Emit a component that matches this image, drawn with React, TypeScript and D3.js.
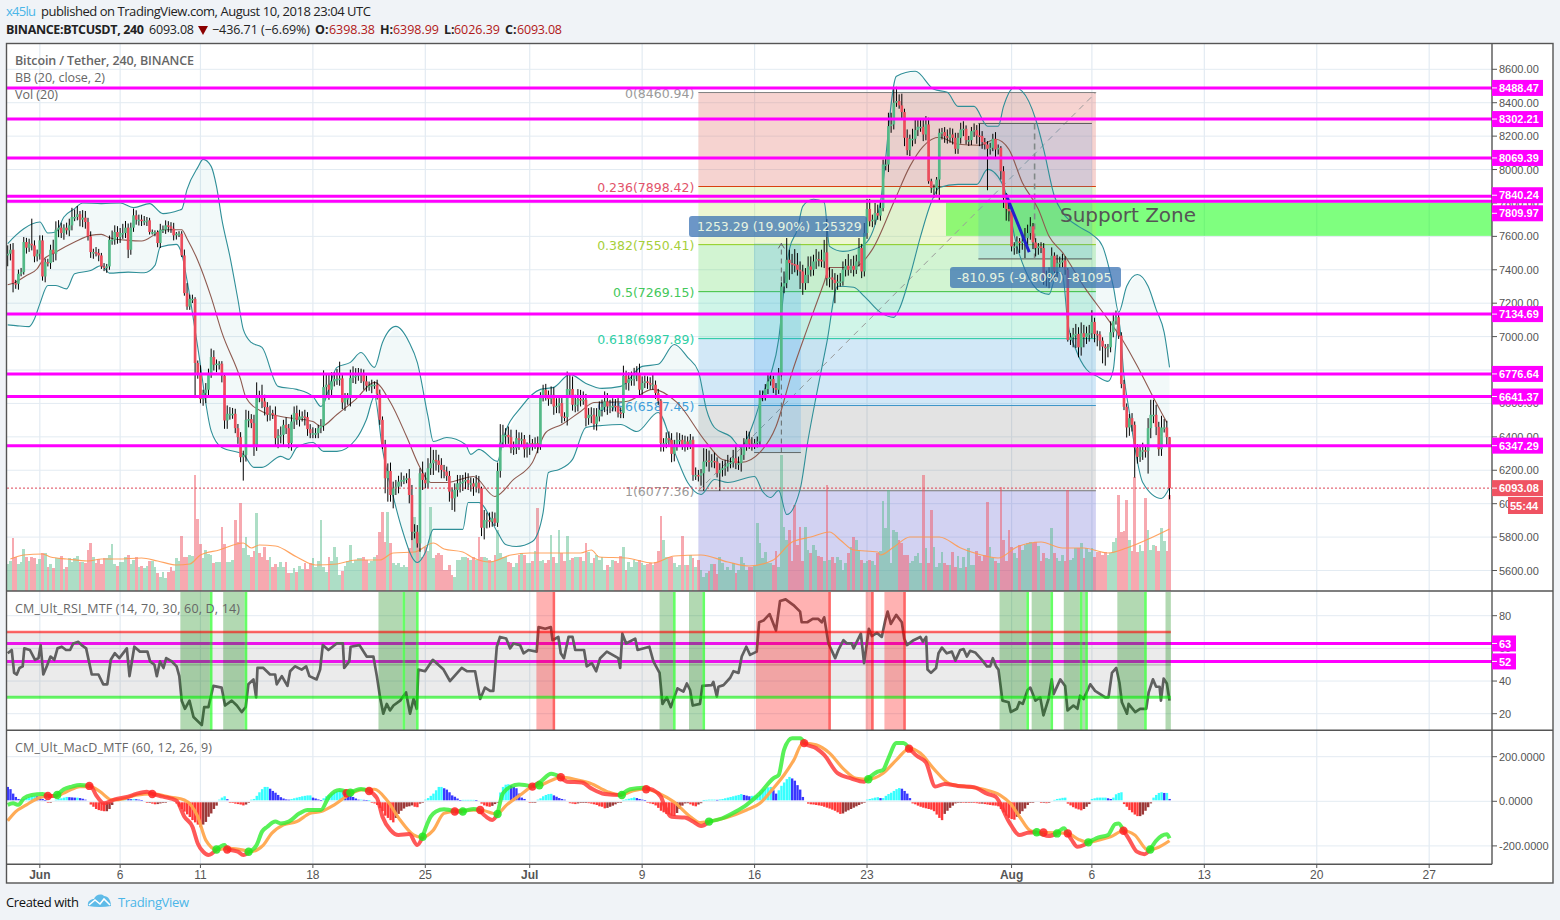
import React from 'react';
import * as d3 from 'd3';

const closes = [
7496,7520,7320,7316,7376,7386,7566,7532,7556,7546,
7480,7496,7576,7360,7446,7440,7520,7496,7640,7652,
7620,7652,7636,7666,7716,7716,7732,7700,7712,7686,
7600,7506,7506,7500,7486,7420,7412,7420,7580,7580,
7626,7596,7620,7620,7652,7520,7652,7726,7700,7700,
7692,7692,7696,7626,7626,7626,7560,7640,7640,7666,
7660,7646,7606,7616,7616,7486,7260,7180,7226,7226,
6842,6778,6626,6662,6682,6778,6878,6832,6838,6838,
6766,6498,6538,6538,6538,6452,6398,6278,6292,6502,
6506,6482,6346,6646,6642,6612,6578,6532,6542,6532,
6392,6406,6412,6472,6452,6362,6492,6542,6502,6522,
6522,6518,6446,6422,6422,6422,6452,6466,6698,6712,
6682,6732,6746,6746,6750,6606,6632,6632,6752,6762,
6766,6772,6778,6732,6706,6706,6712,6712,6658,6502,
6352,6152,6196,6052,6092,6102,6132,6142,6142,6152,
6052,5832,5832,5762,6182,6142,6122,6212,6242,6262,
6258,6232,6202,6192,6166,6072,6032,6082,6122,6126,
6132,6142,6122,6122,6102,6126,6092,5856,5902,5902,
5892,5912,5886,6196,6366,6412,6412,6398,6332,6332,
6392,6382,6386,6326,6332,6362,6358,6362,6342,6642,
6682,6652,6626,6652,6582,6586,6602,6522,6518,6686,
6686,6592,6592,6626,6622,6622,6512,6532,6532,6478,
6522,6562,6578,6612,6582,6582,6586,6582,6546,6542,
6766,6722,6746,6746,6778,6778,6682,6722,6732,6722,
6712,6712,6662,6616,6362,6362,6392,6382,6298,6352,
6382,6382,6352,6372,6352,6382,6172,6172,6168,6182,
6252,6258,6252,6256,6252,6182,6202,6212,6222,6242,
6246,6272,6242,6242,6292,6352,6386,6358,6352,6362,
6372,6638,6642,6686,6732,6746,6692,6682,6782,7300,
7320,7460,7440,7434,7430,7400,7390,7320,7370,7420,
7400,7450,7464,7460,7450,7504,7350,7354,7340,7320,
7330,7330,7400,7424,7400,7424,7400,7450,7530,7390,
7620,7764,7690,7700,7740,7724,7770,8030,8030,8260,
8270,8400,8410,8384,8344,8190,8116,8184,8184,8236,
8256,8256,8210,8270,7930,7890,7890,7940,8220,8224,
8200,8190,8210,8190,8124,8190,8240,8244,8176,8176,
8230,8236,8204,8200,8164,8150,8124,8130,8184,8120,
8130,7990,7830,7764,7750,7540,7540,7570,7560,7570,
7590,7620,7660,7564,7530,7540,7530,7350,7360,7370,
7484,7390,7440,7444,7456,7400,6980,6996,7012,7016,
6936,7020,6996,7020,7020,7088,7016,7012,6976,6940,
6936,6936,7026,7092,7116,7006,6716,6580,6456,6512,
6472,6336,6280,6312,6320,6316,6452,6532,6532,6460,
6326,6456,6456,6398,6093.08];

const wickUp = [
50,35,40,20,25,25,30,25,30,150, 30,25,30,30,20,20,30,60,50,45,
30,20,30,40,55,45,50,20,45,40, 25,30,20,30,25,15,20,15,25,55,
40,35,30,55,40,25,30,40,30,30, 30,30,20,15,15,10,10,35,25,30,
25,25,35,10,15,15,35,60,25,25, 10,15,50,20,40,30,50,40,25,15,
15,10,50,40,35,30,25,30,25,60, 50,30,50,80,30,70,40,30,45,20,
50,40,50,30,45,25,40,40,45,40, 30,40,30,30,35,30,20,40,100,70,
60,55,40,60,100,30,30,30,50,60, 45,40,30,25,35,25,30,20,30,25,
20,30,45,50,40,40,35,45,25,30, 55,60,45,40,30,70,45,60,100,60,
60,35,40,30,30,30,25,40,50,45, 40,45,40,35,30,45,40,10,60,45,
45,40,35,50,110,60,40,50,45,40, 50,35,40,25,35,50,25,35,40,25,
30,35,25,50,45,45,30,30,25,105, 85,75,60,60,55,50,35,40,45,40,
50,50,45,60,50,40,45,40,50,30, 60,30,40,45,35,45,60,40,35,30,
35,60,25,25,10,30,35,40,40,30, 45,40,30,35,30,35,20,45,30,25,
80,70,60,40,50,25,40,45,40,50, 30,50,75,40,40,40,50,45,40,25,
30,40,35,30,40,25,20,30,30,25, 70,130,60,55,90,70,50,40,40,60,
60,40,60,45,60,75,200,60,50,40, 40,50,50,40,70,40,60,40,60,25,
60,60,60,30,60,50,40,30,45,80, 70,90,85,40,70,20,50,25,60,70,
40,50,45,50,40,15,20,15,25,25, 30,40,40,35,30,30,40,45,20,25,
25,40,30,70,30,25,20,30,30,40, 20,10,30,30,40,20,25,30,20,30,
60,50,55,20,25,20,25,30,35,45, 50,20,50,35,40,25,10,25,40,60,
40,65,50,40,50,70,25,20,20,20, 15,20,65,50,40,20,20,25,20,25,
30,20,20,40,45,30,60,90,90,60, 30,70,50,40,1];

const wickDown = [
65,40,55,30,35,15,15,35,25,30, 35,30,35,25,35,20,35,50,40,45,
30,40,25,35,30,25,20,40,45,40, 25,35,40,20,35,15,20,30,20,30,
30,40,35,35,30,50,30,25,30,35, 30,25,30,15,15,25,25,30,20,25,
35,25,30,25,20,10,15,20,20,25, 210,30,25,40,60,40,25,35,45,35,
40,50,50,35,30,30,40,30,140,40, 45,30,60,30,35,40,50,40,35,25,
45,60,45,60,35,30,45,45,30,40, 30,50,40,30,30,30,30,30,30,60,
60,40,30,35,40,40,50,40,50,30, 45,30,50,50,35,30,45,25,35,30,
25,90,140,40,80,40,40,30,25,20, 50,50,40,25,50,60,30,30,40,70,
60,45,50,40,30,60,70,80,40,55, 50,45,40,50,55,35,30,50,70,50,
35,30,20,25,40,30,60,40,30,40, 35,60,40,50,50,40,40,30,40,20,
30,35,40,30,50,40,45,40,25,50, 35,35,45,40,40,30,50,40,50,35,
40,30,40,30,50,40,30,30,30,30, 30,40,45,40,40,45,40,30,30,35,
30,30,35,25,50,50,30,40,50,45, 35,40,30,40,30,25,35,30,35,60,
104,30,60,35,40,25,105,40,45,30, 30,30,35,40,50,30,35,30,35,25,
25,30,25,25,30,25,30,40,25,20, 40,30,100,60,45,35,105,70,40,50,
40,35,45,40,35,40,45,55,60,120, 40,30,25,40,35,20,40,25,30,40,
30,35,30,35,30,25,30,20,35,45, 40,30,25,20,40,50,30,35,45,30,
35,30,40,35,15,30,60,40,130,40, 40,35,30,40,30,30,35,40,25,35,
30,35,50,60,40,30,248,35,20,50, 30,50,60,70,60,30,50,45,60,40,
100,50,40,40,50,40,30,40,50,70, 40,50,35,30,30,30,10,30,60,80,
60,50,60,40,50,30,50,70,60,100, 110,60,30,30,20,20,25,20,60,50,
40,180,40,30,50,40,136,60,50,50, 40,40,30,50,67];

const volumes = [
27,30,53,34,27,29,42,34,30,34, 33,27,32,38,38,24,27,23,33,33,
35,22,24,33,29,33,35,29,29,28, 41,48,34,28,32,27,33,33,36,47,
27,25,29,29,34,36,27,31,34,24, 25,23,25,30,30,24,18,14,19,13,
19,24,20,33,30,55,34,34,36,35, 116,72,47,33,41,37,36,28,29,29,
64,47,29,29,31,71,49,88,43,54, 36,34,40,78,38,34,44,31,34,24,
27,24,29,24,29,18,18,23,19,25, 22,28,22,28,33,24,30,71,24,19,
34,30,44,34,16,20,25,30,46,28, 31,33,33,34,31,28,30,34,36,59,
79,49,79,48,28,26,28,24,26,24, 43,61,74,58,43,34,44,40,84,33,
36,38,36,21,21,26,16,14,31,31, 34,34,33,31,34,31,54,34,34,33,
31,30,36,61,38,34,34,29,28,24, 28,36,38,36,28,28,30,40,83,30,
31,28,31,56,34,28,61,38,30,55, 31,33,34,34,34,30,48,39,28,33,
36,31,34,21,26,24,31,30,28,35, 44,21,29,24,31,29,31,28,26,27,
28,26,29,40,75,51,34,34,34,28, 24,26,55,26,26,36,33,24,31,21,
14,18,20,27,27,17,34,28,21,24, 21,28,18,21,34,28,21,24,24,25,
68,48,33,39,28,28,26,40,24,136, 64,51,61,30,86,46,64,30,64,41,
38,46,41,35,34,30,106,31,34,28, 34,31,21,28,38,44,54,51,41,31,
28,30,31,30,26,38,40,90,63,101, 28,61,59,51,48,36,36,28,30,35,
38,28,116,43,28,81,44,24,28,39, 28,26,26,39,24,35,23,34,24,43,
26,26,40,35,30,36,89,44,33,30, 28,104,51,30,61,44,38,33,46,41,
46,48,49,48,49,45,30,38,33,32, 63,38,33,30,36,30,101,31,33,43,
43,48,33,43,39,43,34,39,39,36, 39,36,38,49,53,96,59,60,91,51,
40,114,39,46,40,93,61,41,46,45, 40,63,50,40,96];

const volumeAverage = [[1,32],[6,36],[13,37],[16,34],[22,32],[30,30],[35,32],[41,32],[50,33],[56,30],[63,26],[68,27],[72,36],[79,41],[88,48],[91,43],[94,46],[100,45],[108,34],[115,26],[123,27],[130,31],[139,31],[144,38],[152,39],[159,48],[163,42],[170,39],[174,33],[180,29],[188,36],[195,38],[201,38],[214,38],[218,41],[221,34],[231,33],[241,28],[249,35],[259,36],[269,29],[277,25],[286,31],[293,49],[300,54],[307,59],[311,51],[316,41],[325,39],[326,36],[331,44],[337,54],[348,54],[356,43],[360,39],[370,33],[377,44],[386,49],[394,43],[402,43],[411,38],[418,43],[427,53],[434,62]];

const bbUpper = [[0,7556],[3,7606],[6,7646],[12,7686],[15,7620],[18,7626],[21,7716],[25,7766],[28,7800],[35,7796],[42,7800],[47,7772],[53,7796],[58,7736],[64,7756],[65,7762],[67,7881],[71,8013],[73,8061],[76,8019],[78,7899],[80,7702],[83,7480],[86,7222],[88,7043],[91,6965],[95,6935],[101,6702],[108,6684],[114,6642],[117,6582],[123,6816],[128,6846],[132,6905],[137,6816],[140,6965],[145,7061],[150,6965],[153,6846],[157,6522],[159,6372],[164,6396],[171,6354],[173,6295],[176,6325],[183,6253],[185,6384],[192,6582],[199,6684],[204,6696],[210,6774],[216,6720],[222,6690],[229,6702],[237,6822],[243,6834],[249,6953],[254,6876],[258,6792],[261,6564],[264,6456],[270,6402],[274,6336],[276,6384],[279,6504],[282,6654],[285,6774],[288,6983],[290,7283],[292,7522],[295,7642],[297,7780],[301,7822],[305,7804],[307,7540],[312,7510],[320,7552],[326,7804],[332,8558],[339,8588],[346,8480],[351,8462],[355,8378],[361,8378],[366,8259],[370,8259],[372,8378],[376,8492],[379,8468],[384,8301],[387,8121],[391,7840],[394,7744],[400,7660],[405,7612],[409,7540],[413,7301],[415,7145],[418,7301],[422,7372],[426,7301],[429,7163],[432,7025],[434,6816]];

const bbLower = [[0,7070],[3,7066],[8,7060],[10,7106],[12,7196],[15,7306],[18,7306],[22,7286],[25,7376],[31,7396],[35,7426],[38,7380],[45,7386],[51,7382],[55,7426],[57,7536],[63,7552],[65,7496],[67,7336],[71,6936],[76,6436],[80,6336],[88,6295],[92,6217],[95,6217],[102,6283],[105,6265],[108,6336],[114,6366],[118,6313],[123,6313],[130,6384],[134,6504],[137,6642],[140,6325],[144,6043],[147,5863],[153,5648],[156,5708],[159,5846],[170,5846],[172,6007],[176,6007],[183,5828],[186,5756],[190,5744],[196,5774],[200,5947],[202,6187],[206,6205],[211,6265],[216,6456],[222,6468],[229,6474],[235,6432],[243,6546],[249,6313],[254,6127],[259,6055],[264,6145],[269,6127],[279,6163],[282,6073],[285,6037],[288,6079],[291,5935],[296,6085],[299,6384],[302,6642],[306,6965],[310,7301],[316,7295],[320,7241],[326,7145],[331,7115],[333,7163],[337,7360],[341,7600],[345,7804],[348,7893],[355,7911],[362,7911],[366,8001],[372,7899],[377,7540],[380,7402],[386,7265],[389,7253],[392,7384],[394,7372],[396,7085],[399,6923],[403,6803],[407,6762],[411,6732],[413,6803],[415,7103],[417,6762],[419,6546],[421,6342],[424,6127],[431,6031],[434,6097]];

const bbBasis = [[0,7310],[3,7326],[7,7366],[11,7406],[13,7456],[18,7506],[25,7566],[31,7606],[35,7612],[38,7592],[45,7576],[50,7572],[55,7612],[58,7640],[65,7640],[67,7586],[71,7456],[76,7236],[80,7025],[87,6744],[89,6636],[95,6552],[102,6522],[114,6492],[117,6462],[123,6534],[130,6624],[137,6726],[143,6606],[149,6402],[154,6217],[158,6127],[164,6127],[174,6163],[182,6043],[189,6145],[196,6247],[201,6426],[207,6474],[214,6552],[219,6606],[231,6612],[241,6684],[250,6606],[261,6366],[267,6265],[274,6247],[281,6307],[287,6462],[293,6786],[299,7061],[305,7325],[307,7414],[316,7414],[323,7522],[331,7804],[337,8019],[342,8139],[348,8193],[355,8151],[363,8145],[369,8181],[374,8121],[379,7923],[385,7762],[389,7600],[394,7504],[402,7301],[411,7103],[417,6965],[422,6822],[427,6666],[433,6486]];

const rsiSeries = [[0,57],[1.5,59],[2.4,45],[3.4,44],[4.4,48],[5.6,49],[6.2,60],[8.3,59],[10.2,53],[11.5,54],[12.3,62],[13.3,44],[14.6,49],[16,55],[17.4,53],[18.6,60],[20.2,61],[21.8,59],[23.3,59],[24.5,63],[26.4,64],[27.6,62],[29.3,60],[31.4,44],[33.9,44],[35.7,38],[37.2,38],[38.5,53],[40,57],[41.7,54],[44.5,60],[45.5,43],[47.3,61],[49.4,58],[52.2,58],[53.2,52],[54.8,50],[55.7,43],[56.9,52],[58.2,48],[59.2,54],[61.3,52],[63.1,49],[64.1,43],[65,28],[66.2,23],[67.9,28],[69.4,18],[72.5,13],[73.4,24],[75,24],[76.8,37],[79.9,36],[81.2,25],[83.7,28],[85.6,25],[87.4,21],[88.9,24],[89.9,38],[91.8,41],[92.8,30],[93.3,48],[95.5,48],[98,44],[99.9,44],[100.5,38],[102.4,43],[104.5,37],[105.5,46],[107.3,49],[109.8,47],[111.5,49],[112.7,43],[115.4,41],[116.7,47],[117.7,62],[119.8,59],[122.9,63],[125.2,63],[125.7,48],[127.6,52],[128.1,61],[131.4,62],[134.1,55],[136.6,55],[137.9,43],[139.1,30],[140.3,20],[141.6,26],[142.8,22],[144.1,25],[146.6,28],[148.8,33],[150.3,20],[151.6,29],[152.8,23],[153.4,47],[155.9,46],[158.8,53],[162.8,47],[165.2,40],[169.6,48],[171.5,46],[174.6,46],[176.5,29],[178.3,36],[180.2,34],[181.4,34],[182.7,61],[183.9,67],[186.2,66],[187.7,60],[188.9,63],[191.4,62],[192.7,57],[194.5,59],[197.6,58],[198.3,73],[200.8,72],[202.9,73],[203.5,65],[205.7,67],[206.6,57],[207.8,54],[209.5,67],[211,67],[212,59],[215.3,59],[216.3,49],[218.2,51],[219.8,46],[221.3,54],[223.8,58],[228.1,54],[228.8,48],[229.6,69],[231,63],[234.4,66],[235.3,59],[239.7,61],[241.2,52],[243.5,45],[244.6,26],[246.2,30],[247.7,24],[250.2,35.5],[252.4,33.5],[253.7,38.5],[254.9,34.5],[255.9,25],[258.6,26],[259.5,37],[263,37.5],[263.6,39.5],[264.9,30.5],[265.5,36.5],[267.4,37.5],[269.9,42],[271.1,46],[273,45],[274.2,55],[275.9,61],[277.3,56],[279.8,58],[280.7,76],[282.3,77],[284.6,81],[287,71],[288.5,89],[290.6,90],[293.5,86.5],[296,82.5],[296.6,76],[298.7,76],[300.7,78],[302.8,78],[304.1,76],[305,79],[306.6,63],[309.1,54],[310.3,59],[312.2,65],[313.5,63],[315.3,63],[316,60],[318.7,69],[319.9,51],[321.7,72],[322.8,67.5],[324.7,69.5],[326.5,67],[327.8,77],[328.7,82.5],[329.9,75],[331.9,80.5],[334,76],[334.9,66],[335.9,62],[338.4,65],[340.9,67],[341.9,64],[343.1,67],[343.6,47],[344.9,45],[346.8,48],[347.7,57],[349,60.5],[350.8,57],[352.7,58],[354,52.5],[355.8,59],[357.1,59.5],[358.3,55],[359.5,58.5],[361.4,57.5],[363.9,53],[365.8,49],[367,49],[368,54],[369.2,49],[370.1,47],[371.6,28],[373.9,27],[374.7,21],[377,23],[377.9,27],[379.2,26],[381,34.5],[382,36],[383.9,28],[385.7,30],[386.9,19],[388.8,29],[390,41],[390.7,32],[393.2,41],[395,37],[395.9,22],[398.1,25],[399.6,23],[400.6,31],[401.9,29],[404.4,38],[406.2,34],[410,30],[411.2,30],[412.5,45],[414.1,48],[415.3,39],[416.2,27],[418.1,20],[418.7,26],[421.2,21],[423,23],[425.3,23],[426.2,33],[427.8,41],[429,36.5],[430.3,36.5],[430.8,28],[431.8,41.5],[433,38.5],[434,28]];

const rsiZones = [[65,76,'g',1],[81,89,'g',1],[139,148,'g',1],[149,153,'g',1],[198,204,'r',1],[244,249,'g',1],[255,260,'g',1],[280,307,'r',1],[321,323,'r',1],[328,335,'r',1],[371,381,'g',1],[383,390,'g',1],[395,401,'g',1],[402,403,'g',1],[415,425,'g',1],[433,435,'g',0]];

const macdFast = [[0,-16],[2,-9],[4,-16],[6,13],[9,28],[13,33],[15,24],[18,24],[21,54],[24,66],[27,73],[31,69],[33,28],[36,-9],[40,9],[45,21],[48,33],[52,43],[54,33],[58,21],[63,3],[66,-69],[69,-114],[71,-189],[73,-226],[75,-241],[78,-216],[81,-196],[82,-216],[86,-226],[88,-241],[91,-222],[93,-196],[95,-136],[97,-114],[100,-91],[102,-99],[105,-91],[109,-54],[112,-39],[117,-39],[120,21],[124,51],[128,39],[132,55],[135,46],[138,13],[140,-69],[143,-129],[146,-151],[150,-147],[153,-196],[155,-159],[158,-69],[160,-46],[163,-36],[167,-46],[170,-46],[174,-34],[176,-39],[179,-72],[181,-84],[183,-57],[185,36],[188,66],[191,75],[196,66],[199,88],[203,123],[206.6,108],[209,88],[214.5,84],[218,58],[223,33],[229,28],[232.5,54],[237.5,61],[241,51],[244,21],[245,-9],[248,-69],[253,-73],[256,-91],[259,-111],[262,-91],[267,-76],[272,-46],[276,-16],[281,36],[286,103],[288,118],[290,231],[293,283],[296,283],[298,258],[302,238],[305,208],[310,126],[315,103],[320,88],[321.5,103],[325,133],[327,141],[329,193],[332,261],[334.6,261],[337,234],[339.6,204],[343,174],[346.5,66],[350,78],[355,69],[361,63],[366,33],[369,21],[374,-91],[378,-151],[381,-141],[384,-139],[388.8,-156],[392,-144],[394.6,-121],[395.9,-144],[397.5,-174],[399.6,-204],[402,-196],[403.7,-184],[407.5,-162],[411,-151],[413.7,-102],[415,-99],[416.8,-132],[418.7,-166],[421.8,-226],[424.6,-237],[426.8,-216],[429,-177],[433,-148],[434,-166]];

const macdSlow = [[0,-87],[3,-46],[7,-16],[10,6],[15,24],[18,24],[22,43],[27,66],[31,66],[34.5,43],[39,6],[44,13],[48,28],[54,33],[61,18],[66,6],[71,-69],[74,-174],[78,-216],[83,-211],[88,-219],[90.5,-226],[95.5,-196],[98.6,-144],[103,-106],[108,-91],[113,-54],[117,-46],[122,-16],[128,33],[132,51],[137,54],[141.6,6],[146.6,-84],[151.6,-151],[154.7,-162],[159,-129],[163,-54],[169,-42],[176.5,-39],[182.7,-57],[186.4,-16],[191.4,28],[196,66],[199,73],[203,93],[206.6,108],[212.6,96],[217.6,81],[224,43],[229,28],[233.7,48],[238.5,54],[243.7,33],[248.7,-1],[255,-69],[258.7,-96],[261.8,-91],[268.6,-72],[276,-39],[281,-9],[286,58],[290,118],[293.7,186],[297,261],[302,253],[307,216],[312,148],[317,103],[321.5,99],[327,126],[332,186],[337,238],[340.9,216],[345.8,148],[352,78],[358,66],[364.5,54],[370.7,28],[374.5,-9],[378,-69],[382,-132],[384.4,-139],[392,-141],[395.9,-144],[400,-171],[403.7,-184],[407.5,-174],[412,-159],[416.8,-132],[421,-151],[426,-219],[429,-211],[434,-177]];

const macdCrosses = [[15,24,'r'],[18.5,28,'g'],[30.5,69,'r'],[54,33,'r'],[78,-216,'g'],[82,-216,'r'],[90,-226,'g'],[126.6,36,'r'],[128,39,'g'],[135,46,'r'],[155,-159,'g'],[167,-46,'r'],[170,-46,'g'],[176.5,-39,'r'],[183,-57,'g'],[196,66,'r'],[198.6,72,'g'],[206.6,108,'r'],[229.4,28,'g'],[238.5,54,'r'],[262,-91,'g'],[297.5,261,'r'],[321.5,99,'g'],[336.7,236,'r'],[384.4,-139,'g'],[386.9,-140,'r'],[392,-144,'g'],[396,-144,'r'],[403.7,-184,'g'],[416.8,-132,'r'],[426.8,-216,'g']];

const macdHist = [
60,50,30,15,6,3,6,10,14,18, 20,18,15,6,1,-2,-1,0,3,6,
9,12,15,14,13,12,12,10,7,3, 0,-10,-20,-30,-35,-38,-40,-40,-30,-12,
0,2,4,6,8,6,5,6,5,3, 1,0,-3,-3,-6,-9,-8,-5,-3,-1,
0,0,0,-5,-20,-30,-42,-54,-66,-80, -90,-100,-112,-100,-88,-65,-50,-30,-15,3,
12,18,5,-2,-3,-6,-8,-10,-14,-10, -1,3,6,20,36,50,60,60,52,42,
34,24,14,8,4,3,6,9,12,15, 18,20,22,22,12,8,4,1,9,18,
24,30,36,40,44,46,38,34,30,15, 8,3,3,2,1,1,-1,-5,-12,-25,
-40,-60,-70,-80,-90,-70,-52,-38,-28,-20, -18,-14,-20,-22,-6,-1,3,10,20,30,
45,60,60,54,48,36,22,16,8,1, 2,2,2,2,2,1,0,-6,-14,-18,
-20,-16,-8,-1,35,60,70,72,66,60, 54,30,12,6,0,-2,-2,-1,3,9,
18,24,28,29,22,16,10,6,3,0, -4,-6,-8,-5,-3,-3,-3,-4,-6,-9,
-12,-18,-20,-27,-25,-20,-15,-9,-3,-1, 2,4,7,10,13,10,6,3,1,-2,
-5,-8,-14,-25,-38,-45,-52,-55,-60,-62, -48,-30,-15,-5,-4,-9,-15,-18,-10,-4,
1,2,3,3,3,2,4,6,9,12, 15,18,21,24,28,24,21,18,20,21,
24,36,48,52,58,60,45,30,45,65, 80,95,105,98,88,68,48,15,0,-6,
-9,-10,-12,-14,-16,-20,-24,-28,-33,-38, -45,-52,-50,-42,-36,-30,-24,-18,-12,-6,
-2,3,6,9,12,14,10,10,20,28, 34,42,50,55,52,42,30,10,-5,-9,
-15,-20,-24,-27,-30,-33,-40,-55,-70,-80, -52,-38,-25,-15,-5,-2,-1,-2,-1,-3,
-2,-3,-4,-6,-6,-8,-10,-12,-14,-15, -18,-30,-45,-60,-70,-75,-78,-65,-52,-40,
-28,-12,-3,-1,0,0,-3,-2,-4,-2, 0,2,6,8,11,12,-6,-14,-22,-28,
-32,-36,-30,-20,-8,6,9,12,12,12, 12,9,6,12,27,33,36,-8,-20,-35,
-45,-55,-62,-62,-55,-38,-22,-5,12,24, 33,36,33,33,6];

const priceTicks = [8600,8400,8200,8000,7800,7600,7400,7200,7000,6800,6600,6400,6200,6000,5800,5600];
const rsiTicks = [80,60,40,20];
const macdTicks = [200,0,-200];
const timeTicks = [[12,'Jun',true],[42,'6',false],[72,'11',false],[114,'18',false],[156,'25',false],[195,'Jul',true],[237,'9',false],[279,'16',false],[321,'23',false],[375,'Aug',true],[405,'6',false],[447,'13',false],[489,'20',false],[531,'27',false]];
const levels = [8488.47,8302.21,8069.39,7840.24,7809.97,7134.69,6776.64,6641.37,6347.29];
const rsiLevels = [63,52];

const fibLevels = [
  {ratio:'0',price:8460.94,fill:'rgba(225,110,100,0.3)',line:'#808080',text:'#9a9a9a'},
  {ratio:'0.236',price:7898.42,fill:'rgba(190,225,90,0.27)',line:'#d9400f',text:'#e2536a'},
  {ratio:'0.382',price:7550.41,fill:'rgba(90,215,90,0.27)',line:'#8fce1a',text:'#a7cf3a'},
  {ratio:'0.5',price:7269.15,fill:'rgba(60,215,160,0.24)',line:'#3cc13c',text:'#44c85a'},
  {ratio:'0.618',price:6987.89,fill:'rgba(50,150,220,0.22)',line:'#20c8a0',text:'#2fcfa5'},
  {ratio:'0.786',price:6587.45,fill:'rgba(128,128,128,0.22)',line:'#3d95c8',text:'#43a0e0'},
  {ratio:'1',price:6077.36,fill:'rgba(80,80,205,0.26)',line:'#777777',text:'#9a9a9a'},
];

const LEFT = 7, AXIS = 1492, RIGHT = 1553;
const x = d3.scaleLinear().domain([0,434]).range([7.7,7.7+434*2.677]);
const y = d3.scaleLinear().domain([8600,5600]).range([69.3,570.5]);
const yVol = d3.scaleLinear().domain([0,150]).range([591,441]);
const yRsi = d3.scaleLinear().domain([80,20]).range([615.7,713.7]);
const yMacd = d3.scaleLinear().domain([200,-200]).range([756.7,845.9]);

const priceLine = d3.line().x((p:any)=>x(p[0])).y((p:any)=>y(p[1]));
const smoothPrice = d3.line().x((p:any)=>x(p[0])).y((p:any)=>y(p[1])).curve(d3.curveMonotoneX);
const rsiLine = d3.line().x((p:any)=>x(p[0])).y((p:any)=>yRsi(p[1]));
const macdLine = d3.line().x((p:any)=>x(p[0])).y((p:any)=>yMacd(p[1])).curve(d3.curveMonotoneX);
const volLine = d3.line().x((p:any)=>x(p[0])).y((p:any)=>yVol(p[1])).curve(d3.curveMonotoneX);

const ARIAL = '"Liberation Sans", Arial, sans-serif';
const UI = '"Open Sans", sans-serif';
const DV = '"DejaVu Sans", sans-serif';
const GRID = '#e3ebf2';
const BW = 1.34;

function fastSegments() {
  const out:any[] = [];
  let start = 0; let col = 'g';
  macdCrosses.forEach((c:any)=>{
    out.push({from:start,to:c[0],col});
    start = c[0]; col = c[2];
  });
  out.push({from:start,to:434,col});
  return out.map(s=>{
    const pts = macdFast.filter((p:any)=>p[0]>s.from && p[0]<s.to);
    const at = (t:number)=>{
      const i = macdFast.findIndex((p:any)=>p[0]>=t);
      if(i<=0) return macdFast[0][1];
      const a:any=macdFast[i-1], b:any=macdFast[i];
      return a[1]+(b[1]-a[1])*(t-a[0])/(b[0]-a[0]);
    };
    return {points:[[s.from,at(s.from)],...pts,[s.to,at(s.to)]],col:s.col};
  });
}

function Label({px,py,w,text,fill='#ff00ff',height=16}:any){
  return <g>
    <rect x={px} y={py-height/2} width={w} height={height} fill={fill}/>
    <line x1={px} x2={px+5} y1={py} y2={py} stroke="#fff" strokeWidth={1}/>
    <text x={px+7} y={py+4.2} fontFamily={ARIAL} fontSize={11} fontWeight={700} fill="#fff">{text}</text>
  </g>;
}

export default function App(){
  const segs = fastSegments();
  const fibLeft = x(258), fibRight = x(406.5);
  const bandPoly = [...bbUpper,...[...bbLower].reverse()];
  return (
    <svg width={1560} height={920} viewBox="0 0 1560 920" style={{position:'absolute',left:0,top:0,display:'block'}}>
      <rect width={1560} height={920} fill="#f0f3f7"/>
      <rect x={LEFT} y={43} width={RIGHT-LEFT} height={840} fill="#fff"/>

      {priceTicks.map(t=><line key={'gp'+t} x1={LEFT} x2={AXIS} y1={y(t)} y2={y(t)} stroke={GRID} strokeWidth={1}/>)}
      {rsiTicks.map(t=><line key={'gr'+t} x1={LEFT} x2={AXIS} y1={yRsi(t)} y2={yRsi(t)} stroke={GRID} strokeWidth={1}/>)}
      {macdTicks.map(t=><line key={'gm'+t} x1={LEFT} x2={AXIS} y1={yMacd(t)} y2={yMacd(t)} stroke={GRID} strokeWidth={1}/>)}
      {timeTicks.map((t:any)=><line key={'gt'+t[0]} x1={x(t[0])} x2={x(t[0])} y1={44} y2={864} stroke={GRID} strokeWidth={1.2}/>)}

      <rect x={x(350.5)} y={y(7803)} width={AXIS-x(350.5)} height={y(7603)-y(7803)} fill="rgba(0,255,0,0.5)"/>

      {fibLevels.map((f,i)=>{
        const next = i<fibLevels.length-1 ? y(fibLevels[i+1].price) : 591;
        return <rect key={'fib'+i} x={fibLeft} y={y(f.price)} width={fibRight-fibLeft} height={next-y(f.price)} fill={f.fill}/>;
      })}
      {fibLevels.map((f,i)=><line key={'fl'+i} x1={fibLeft} x2={fibRight} y1={y(f.price)} y2={y(f.price)} stroke={f.line} strokeWidth={1}/>)}
      {fibLevels.map((f,i)=><text key={'ft'+i} x={fibLeft-4} y={y(f.price)+5} textAnchor="end" fontFamily={DV} fontSize={12.5} fill={f.text}>{`${f.ratio}(${f.price.toFixed(2)})`}</text>)}
      <path d={priceLine([[258,6077.36],[406.5,8460.94]] as any)!} fill="none" stroke="#9a9a9a" strokeWidth={1} strokeDasharray="6 5"/>

      <rect x={x(278.8)} y={y(7558)} width={x(296.3)-x(278.8)} height={y(6306)-y(7558)} fill="rgba(33,150,243,0.18)"/>
      <line x1={x(278.8)} x2={x(296.3)} y1={y(6306)} y2={y(6306)} stroke="#666" strokeWidth={1}/>
      <line x1={x(289)} x2={x(289)} y1={y(6306)} y2={y(7558)} stroke="#666" strokeWidth={1} strokeDasharray="5 4"/>
      <path d={d3.line()([[x(289)-3,y(7558)+5],[x(289),y(7558)],[x(289)+3,y(7558)+5]] as any)!} fill="none" stroke="#666"/>
      <rect x={x(362.6)} y={y(8276)} width={x(405)-x(362.6)} height={y(7465)-y(8276)} fill="rgba(33,150,243,0.15)"/>
      <line x1={x(362.6)} x2={x(405)} y1={y(8276)} y2={y(8276)} stroke="#555" strokeWidth={1}/>
      <line x1={x(362.6)} x2={x(405)} y1={y(7465)} y2={y(7465)} stroke="#555" strokeWidth={1}/>
      <line x1={x(383.6)} x2={x(383.6)} y1={y(8276)} y2={y(7465)} stroke="#888" strokeWidth={1.6} strokeDasharray="6 4"/>

      {volumes.map((v,i)=>{
        const up = closes[i] >= (i? closes[i-1]:7486);
        const x0 = Math.round(x(i)-BW), x1 = Math.round(x(i+1)-BW);
        return <rect key={'v'+i} x={x0} width={x1-x0} y={yVol(v)} height={591-yVol(v)} shapeRendering="crispEdges" fill={up?'rgba(83,185,135,0.48)':'rgba(239,83,98,0.5)'}/>;
      })}
      <path d={volLine(volumeAverage as any)!} fill="none" stroke="#ff9a50" strokeWidth={1.2} strokeOpacity={0.9}/>

      <path d={priceLine(bandPoly as any)!+'Z'} fill="rgba(0,128,128,0.05)"/>
      <path d={smoothPrice(bbUpper as any)!} fill="none" stroke="#2f8f98" strokeWidth={1.1}/>
      <path d={smoothPrice(bbLower as any)!} fill="none" stroke="#2f8f98" strokeWidth={1.1}/>
      <path d={smoothPrice(bbBasis as any)!} fill="none" stroke="#8e5a50" strokeWidth={1.1}/>

      {closes.map((c,i)=>{
        const o = i? closes[i-1]:7486;
        const hi = Math.max(o,c)+wickUp[i];
        const lo = Math.min(o,c)-wickDown[i];
        return <line key={'w'+i} x1={x(i)} x2={x(i)} y1={y(hi)} y2={y(lo)} stroke="#000" strokeWidth={1}/>;
      })}
      {closes.map((c,i)=>{
        const o = i? closes[i-1]:7486;
        const top = y(Math.max(o,c));
        const h = Math.max(1.5,y(Math.min(o,c))-top);
        return <rect key={'b'+i} x={x(i)-1.35} width={2.7} y={top} height={h} fill={c>=o?'#53b987':'#eb4d5c'}/>;
      })}

      <path d={priceLine([[372.9,7851],[381.6,7506]] as any)!} fill="none" stroke="#2222cc" strokeWidth={3}/>
      <line x1={LEFT} x2={AXIS} y1={y(6093.08)} y2={y(6093.08)} stroke="#dd4455" strokeWidth={1} strokeDasharray="2 2"/>
      {levels.map(l=><line key={'m'+l} x1={LEFT} x2={AXIS} y1={y(l)} y2={y(l)} stroke="#ff00ff" strokeWidth={3}/>)}

      <text x={1060} y={222} fontFamily={DV} fontSize={20} fill="#555" textLength={136}>Support Zone</text>

      <rect x={689} y={216} width={178} height={21} rx={3} fill="rgba(45,105,175,0.7)"/>
      <text x={697} y={231} fontFamily={DV} fontSize={12.5} fill="#e6f3e0">1253.29 (19.90%) 125329</text>
      <rect x={950} y={267} width={171} height={21} rx={3} fill="rgba(45,105,175,0.7)"/>
      <text x={957} y={282} fontFamily={DV} fontSize={12.5} fill="#e6f3e0">-810.95 (-9.80%) -81095</text>

      {rsiLevels.map(l=><line key={'rl'+l} x1={LEFT} x2={AXIS} y1={yRsi(l)} y2={yRsi(l)} stroke="#ff00ff" strokeWidth={3}/>)}
      <rect x={LEFT} y={yRsi(70)} width={x(434)+1.3-LEFT} height={yRsi(30)-yRsi(70)} fill="rgba(128,128,128,0.16)"/>
      <line x1={LEFT} x2={x(434)+1.3} y1={yRsi(50)} y2={yRsi(50)} stroke="rgba(120,120,120,0.3)" strokeWidth={2}/>
      <path d={rsiLine(rsiSeries as any)!} fill="none" stroke="#606060" strokeWidth={2.7} strokeLinejoin="round"/>
      {rsiZones.map((z:any,i)=>{
        const g = z[2]==='g';
        const hasEdge = z[3]===1;
        const edge = x(z[1])-BW;
        return <g key={'z'+i}>
          <rect x={x(z[0])-BW} y={592} width={edge-(x(z[0])-BW)} height={138} fill={g?'rgba(0,128,0,0.3)':'rgba(255,0,0,0.3)'}/>
          {hasEdge && <rect x={edge} y={592} width={BW*2} height={138} fill={g?'rgba(0,255,0,0.6)':'rgba(255,0,0,0.6)'}/>}
        </g>;
      })}
      <line x1={LEFT} x2={x(434)+1.3} y1={yRsi(70)} y2={yRsi(70)} stroke="rgba(255,0,0,0.6)" strokeWidth={2.6}/>
      <line x1={LEFT} x2={x(434)+1.3} y1={yRsi(30)} y2={yRsi(30)} stroke="rgba(0,240,0,0.6)" strokeWidth={3}/>

      {macdHist.map((h,i)=>{
        if(h===0) return null;
        const prev = i?macdHist[i-1]:h+1;
        const col = h>0 ? (h>=prev?'#00ffff':'#0000ff') : (h<prev?'#ff0000':'#800000');
        const y0 = h>0 ? yMacd(0)-1 : yMacd(0)+1;
        const y1 = y0 + (yMacd(h)-yMacd(0));
        return <rect key={'h'+i} x={x(i)-1.1} width={2.4} y={Math.min(y0,y1)} height={Math.max(0.6,Math.abs(y1-y0))} fill={col} fillOpacity={0.78}/>;
      })}
      <path d={macdLine(macdSlow as any)!} fill="none" stroke="#ffa64d" strokeWidth={3.2} strokeOpacity={0.95}/>
      {segs.map((s:any,i)=><path key={'s'+i} d={macdLine(s.points as any)!} fill="none" stroke={s.col==='g'?'#33ee33':'#ff3333'} strokeWidth={4} strokeOpacity={0.82} strokeLinejoin="round"/>)}
      {macdCrosses.map((c:any,i)=><circle key={'c'+i} cx={x(c[0])} cy={yMacd(c[1])} r={4.2} fill={c[2]==='g'?'#22e622':'#ff2222'} fillOpacity={0.85}/>)}

      <g stroke="#555" strokeWidth={1.4} fill="none">
        <rect x={6.5} y={43.5} width={1546.5} height={839.5}/>
        <line x1={6.5} x2={1553} y1={591} y2={591}/>
        <line x1={6.5} x2={1553} y1={730.3} y2={730.3}/>
        <line x1={6.5} x2={AXIS} y1={864.3} y2={864.3}/>
        <line x1={AXIS} x2={AXIS} y1={43.5} y2={864.3}/>
      </g>

      {priceTicks.map(t=><g key={'pa'+t}>
        <line x1={AXIS} x2={AXIS+5} y1={y(t)} y2={y(t)} stroke="#555"/>
        <text x={1499} y={y(t)+4} fontFamily={ARIAL} fontSize={11} fill="#555">{t.toFixed(2)}</text>
      </g>)}
      {rsiTicks.map(t=><g key={'ra'+t}>
        <line x1={AXIS} x2={AXIS+5} y1={yRsi(t)} y2={yRsi(t)} stroke="#555"/>
        <text x={1499} y={yRsi(t)+4} fontFamily={ARIAL} fontSize={11} fill="#555">{t}</text>
      </g>)}
      {macdTicks.map(t=><g key={'ma'+t}>
        <line x1={AXIS} x2={AXIS+5} y1={yMacd(t)} y2={yMacd(t)} stroke="#555"/>
        <text x={1499} y={yMacd(t)+4} fontFamily={ARIAL} fontSize={11} fill="#555">{t.toFixed(4)}</text>
      </g>)}
      {levels.map(l=><Label key={'lab'+l} px={AXIS} py={l===7809.97 ? y(l)+12 : l===7840.24 ? y(l)-1 : y(l)} w={51} text={l.toFixed(2)}/>)}
      <Label px={AXIS} py={y(6093.08)} w={51} text="6093.08" fill="#ef5362"/>
      <rect x={1508} y={497} width={35} height={17} fill="#ef5362"/>
      <text x={1510} y={509.5} fontFamily={ARIAL} fontSize={11} fontWeight={700} fill="#fff">55:44</text>
      {rsiLevels.map(l=><Label key={'rlab'+l} px={AXIS} py={yRsi(l)} w={24} text={String(l)}/>)}

      {timeTicks.map((t:any)=><g key={'ta'+t[0]}>
        <line x1={x(t[0])} x2={x(t[0])} y1={864} y2={868} stroke="#555"/>
        <text x={x(t[0])} y={879} textAnchor="middle" fontFamily={ARIAL} fontSize={12} fontWeight={t[2]?700:400} fill="#555">{t[1]}</text>
      </g>)}

      <text x={15} y={65} fontFamily={UI} fontSize={12.5} fontWeight={600} fill="#666" textLength={179}>Bitcoin / Tether, 240, BINANCE</text>
      <text x={15} y={82} fontFamily={UI} fontSize={12.5} fill="#666" textLength={90}>BB (20, close, 2)</text>
      <text x={15} y={99} fontFamily={UI} fontSize={12.5} fill="#666" textLength={43}>Vol (20)</text>
      <text x={15} y={613} fontFamily={UI} fontSize={12.5} fill="#666" textLength={225}>CM_Ult_RSI_MTF (14, 70, 30, 60, D, 14)</text>
      <text x={15} y={752} fontFamily={UI} fontSize={12.5} fill="#666" textLength={197}>CM_Ult_MacD_MTF (60, 12, 26, 9)</text>

      <text x={6} y={16} fontFamily={UI} fontSize={13} fill="#4bb6e8" textLength={30}>x45lu</text>
      <text x={41} y={16} fontFamily={UI} fontSize={13} fill="#222" textLength={330}>published on TradingView.com, August 10, 2018 23:04 UTC</text>

      <text x={6} y={34} fontFamily={UI} fontSize={12.5} fontWeight={700} fill="#222" textLength={138}>BINANCE:BTCUSDT, 240</text>
      <text x={149} y={34} fontFamily={UI} fontSize={12.5} fill="#222" textLength={45}>6093.08</text>
      <path d="M198 26 L208 26 L203 35 Z" fill="#8b0000"/>
      <text x={212} y={34} fontFamily={UI} fontSize={12.5} fill="#222" textLength={98}>−436.71 (−6.69%)</text>
      <text x={315} y={34} fontFamily={UI} fontSize={12.5} fontWeight={700} fill="#222">O:</text>
      <text x={329} y={34} fontFamily={UI} fontSize={12.5} fill="#b01818" textLength={46}>6398.38</text>
      <text x={380} y={34} fontFamily={UI} fontSize={12.5} fontWeight={700} fill="#222">H:</text>
      <text x={393} y={34} fontFamily={UI} fontSize={12.5} fill="#b01818" textLength={46}>6398.99</text>
      <text x={444} y={34} fontFamily={UI} fontSize={12.5} fontWeight={700} fill="#222">L:</text>
      <text x={454} y={34} fontFamily={UI} fontSize={12.5} fill="#b01818" textLength={46}>6026.39</text>
      <text x={505} y={34} fontFamily={UI} fontSize={12.5} fontWeight={700} fill="#222">C:</text>
      <text x={517} y={34} fontFamily={UI} fontSize={12.5} fill="#b01818" textLength={45}>6093.08</text>

      <text x={6} y={907} fontFamily={UI} fontSize={13} fill="#111" textLength={73}>Created with</text>
      <path d="M88 906 C87 901 91 899 94 899 C95 895 101 893 104 896 C108 896 111 900 111 906 Q100 908 88 906Z" fill="#5fbbe8"/>
      <path d="M89 905 L95 900 L100 904 L104 899 L110 905" fill="none" stroke="#fff" strokeWidth={1.6}/>
      <text x={118} y={907} fontFamily={UI} fontSize={13} fill="#4bb6e8" textLength={71}>TradingView</text>
    </svg>
  );
}
